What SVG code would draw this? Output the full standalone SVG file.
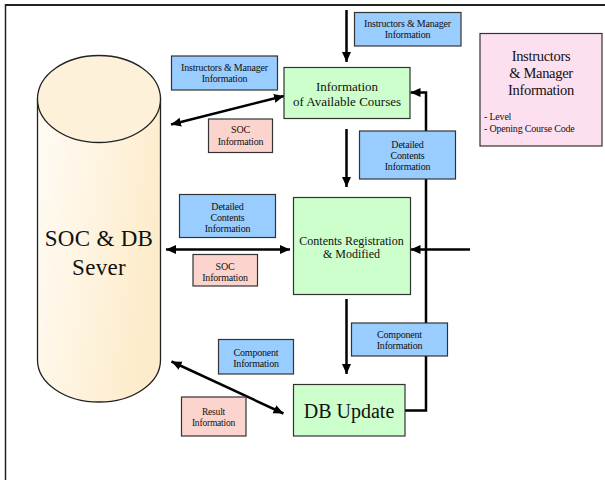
<svg xmlns="http://www.w3.org/2000/svg" width="605" height="480" viewBox="0 0 605 480">
  <defs>
    <linearGradient id="cylBody" x1="0" y1="0" x2="1" y2="0.35">
      <stop offset="0" stop-color="#fffcf6"/>
      <stop offset="1" stop-color="#fdeccb"/>
    </linearGradient>
    <marker id="head" viewBox="0 0 10 10" refX="10" refY="5" markerWidth="10" markerHeight="10" markerUnits="userSpaceOnUse" orient="auto-start-reverse">
      <path d="M0,0.5 L10,5 L0,9.5 Z" fill="#000"/>
    </marker>
    <style>
      .frame { stroke: #222; fill: none; }
      .box { stroke: #333; stroke-width: 1.2; }
      .blue { fill: #99ccff; }
      .green { fill: #ccffcc; }
      .rose { fill: #fbd5cd; }
      .legend { fill: #fde0ef; }
      .link { stroke: #000; stroke-width: 2.5; fill: none; }
      text { font-family: "Liberation Serif", "Times New Roman", serif; fill: #111; text-anchor: middle; }
      .sm { font-size: 10px; letter-spacing: -0.2px; }
      .xs { font-size: 9.5px; letter-spacing: -0.2px; }
      .md { font-size: 12px; }
      .mdl { font-size: 13px; }
      .lg { font-size: 20px; }
      .xl { font-size: 23px; letter-spacing: 0.3px; }
      .ttl { font-size: 14.5px; letter-spacing: -0.3px; }
      .item { font-size: 10px; text-anchor: start; letter-spacing: -0.2px; }
    </style>
  </defs>

  <rect width="605" height="480" fill="#fff"/>

  <!-- page frame -->
  <line class="frame" x1="5" y1="5" x2="605" y2="5" stroke-width="2.2"/>
  <line class="frame" x1="5.5" y1="4" x2="5.5" y2="480" stroke-width="1.5"/>

  <!-- connectors -->
  <g id="connectors">
    <line class="link" x1="346.5" y1="10" x2="346.5" y2="62" marker-end="url(#head)"/>
    <line class="link" x1="171" y1="124.5" x2="284" y2="96" marker-start="url(#head)" marker-end="url(#head)"/>
    <line class="link" x1="346.5" y1="129" x2="346.5" y2="187" marker-end="url(#head)"/>
    <line class="link" x1="166" y1="249.5" x2="290" y2="249.5" marker-start="url(#head)" marker-end="url(#head)"/>
    <line class="link" x1="470" y1="249.5" x2="410.5" y2="249.5" marker-end="url(#head)"/>
    <line class="link" x1="346.5" y1="299" x2="346.5" y2="374" marker-end="url(#head)"/>
    <line class="link" x1="171.5" y1="361.5" x2="283.5" y2="413.5" marker-start="url(#head)" marker-end="url(#head)"/>
    <polyline class="link" points="405,410.5 426,410.5 426,92.5 410.5,92.5" marker-end="url(#head)"/>
  </g>

  <!-- server cylinder -->
  <g id="server">
    <path d="M37.5,99 L37.5,360 A61.5,42 0 0 0 160.5,360 L160.5,99 Z" fill="url(#cylBody)" stroke="#222" stroke-width="1.3"/>
    <ellipse cx="99" cy="99" rx="61.5" ry="43.5" fill="#fdf1d9" stroke="#222" stroke-width="1.3"/>
    <text class="xl" x="99" y="246">SOC &amp; DB</text>
    <text class="xl" x="99" y="275">Sever</text>
  </g>

  <!-- process nodes -->
  <g id="available-courses">
    <rect class="box green" x="284" y="67.5" width="126" height="51"/>
    <text class="mdl" x="347" y="91">Information</text>
    <text class="mdl" x="347" y="106">of Available Courses</text>
  </g>
  <g id="contents-registration">
    <rect class="box green" x="293.5" y="197.5" width="117" height="97"/>
    <text class="md" x="351.5" y="245">Contents Registration</text>
    <text class="md" x="351.5" y="257.5">&amp; Modified</text>
  </g>
  <g id="db-update">
    <rect class="box green" x="293.5" y="384.5" width="111.5" height="51.5"/>
    <text class="lg" x="349" y="418">DB Update</text>
  </g>

  <!-- data labels -->
  <g id="label-instructors-top">
    <rect class="box blue" x="354.5" y="12.5" width="106.5" height="33.5"/>
    <text class="sm" x="407.5" y="27">Instructors &amp; Manager</text>
    <text class="sm" x="407.5" y="38">Information</text>
  </g>
  <g id="label-instructors-left">
    <rect class="box blue" x="171.5" y="56" width="106" height="34"/>
    <text class="sm" x="224.5" y="71">Instructors &amp; Manager</text>
    <text class="sm" x="224.5" y="82">Information</text>
  </g>
  <g id="label-soc-1">
    <rect class="box rose" x="208.5" y="119" width="64" height="33.5"/>
    <text class="sm" x="240.5" y="133">SOC</text>
    <text class="sm" x="240.5" y="145">Information</text>
  </g>
  <g id="label-detailed-right">
    <rect class="box blue" x="359.5" y="131" width="96" height="48"/>
    <text class="sm" x="407.5" y="148">Detailed</text>
    <text class="sm" x="407.5" y="159">Contents</text>
    <text class="sm" x="407.5" y="170">Information</text>
  </g>
  <g id="label-detailed-left">
    <rect class="box blue" x="179.5" y="194.5" width="96" height="43"/>
    <text class="sm" x="227.5" y="209.5">Detailed</text>
    <text class="sm" x="227.5" y="220.5">Contents</text>
    <text class="sm" x="227.5" y="231.5">Information</text>
  </g>
  <g id="label-soc-2">
    <rect class="box rose" x="193" y="254.5" width="64.5" height="31.5"/>
    <text class="sm" x="225" y="269.5">SOC</text>
    <text class="sm" x="225" y="281">Information</text>
  </g>
  <g id="label-component-right">
    <rect class="box blue" x="351.5" y="323" width="96" height="33"/>
    <text class="sm" x="399.5" y="338">Component</text>
    <text class="sm" x="399.5" y="349">Information</text>
  </g>
  <g id="label-component-left">
    <rect class="box blue" x="218.5" y="339.5" width="75" height="34.5"/>
    <text class="sm" x="256" y="356">Component</text>
    <text class="sm" x="256" y="366.5">Information</text>
  </g>
  <g id="label-result">
    <rect class="box rose" x="181.5" y="397" width="64.5" height="39"/>
    <text class="xs" x="213.5" y="414.5">Result</text>
    <text class="xs" x="213.5" y="426">Information</text>
  </g>

  <!-- legend -->
  <g id="legend">
    <rect class="box legend" x="480" y="33.5" width="122" height="112.5"/>
    <text class="ttl" x="541" y="61">Instructors</text>
    <text class="ttl" x="541" y="78">&amp; Manager</text>
    <text class="ttl" x="541" y="95">Information</text>
    <text class="item" x="484" y="120">- Level</text>
    <text class="item" x="484" y="132">- Opening Course Code</text>
  </g>
</svg>
